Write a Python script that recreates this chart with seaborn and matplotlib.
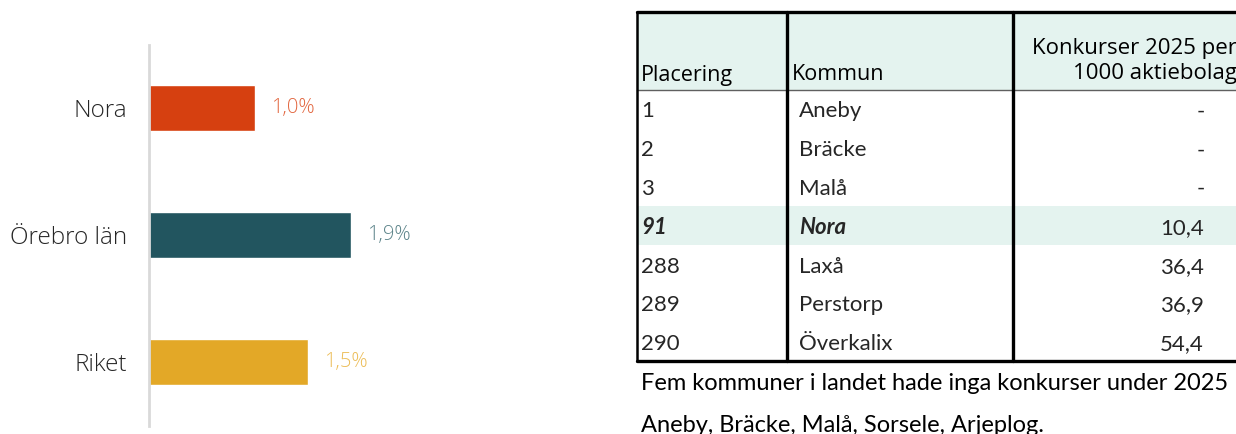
import matplotlib
matplotlib.use("Agg")
import matplotlib.pyplot as plt
import seaborn as sns
import pandas as pd

# ---- data ----
categories = ["Nora", "Örebro län", "Riket"]
values = [1.0, 1.9, 1.5]
value_labels = ["1,0%", "1,9%", "1,5%"]
bar_colors = ["#D64010", "#22555F", "#E3A827"]
label_colors = ["#E2663F", "#5B8389", "#ECBD58"]

header = ["Placering", "Kommun", "Konkurser 2025 per\n1000 aktiebolag"]
rank = ["1", "2", "3", "91", "288", "289", "290"]
kommun = ["Aneby", "Bräcke", "Malå", "Nora", "Laxå", "Perstorp", "Överkalix"]
rate = ["-", "-", "-", "10,4", "36,4", "36,9", "54,4"]
highlight_row = 3
footnote = ["Fem kommuner i landet hade inga konkurser under 2025",
            "Aneby, Bräcke, Malå, Sorsele, Arjeplog."]

W, H = 1236, 434
fig = plt.figure(figsize=(W / 100, H / 100), dpi=100)
sns.set_style("white")
plt.rcParams['font.family'] = ['Lato', 'DejaVu Sans']

# ---- bar chart ----
ax = fig.add_axes([149 / W, 8.5 / H, 420 / W, 381 / H])
df = pd.DataFrame({"cat": categories, "val": values})
sns.barplot(data=df, x="val", y="cat", hue="cat", palette=bar_colors,
            orient="h", width=0.36, legend=False, ax=ax, saturation=1)
ax.set_xlim(0, 3.95)
ax.set_ylim(2.5, -0.5)
ax.set_xlabel("")
ax.set_ylabel("")
ax.set_xticks([])
for s in ["top", "right", "bottom"]:
    ax.spines[s].set_visible(False)
ax.spines["left"].set_color("#D9D9D9")
ax.spines["left"].set_linewidth(2)
ax.tick_params(axis="y", length=0, pad=15.5, labelsize=17.5, labelcolor="#262626")
for lbl in ax.get_yticklabels():
    lbl.set_fontfamily(["Open Sans", "DejaVu Sans"])
    lbl.set_fontweight("light")
for i, (v, t, c) in enumerate(zip(values, value_labels, label_colors)):
    ax.annotate(t, xy=(v, i), xytext=(11.5, 0), textcoords="offset points",
                va="center", ha="left", fontsize=14.5, color=c,
                family=["Open Sans", "DejaVu Sans"], fontweight="light")

# ---- table ----
tx = fig.add_axes([0, 0, 1, 1])
tx.set_xlim(0, W)
tx.set_ylim(H, 0)
tx.axis("off")
mint = "#E4F3EF"
top, head_bot = 12, 89.5
row_h = 38.8
first = head_bot
bottom = first + row_h * len(rank)
xl, x1, x2, xr = 636.5, 787, 1013, 1240
tx.add_patch(plt.Rectangle((xl, top), xr - xl, head_bot - top, color=mint, lw=0))
hy = first + row_h * highlight_row
tx.add_patch(plt.Rectangle((xl, hy), xr - xl, row_h, color=mint, lw=0))
tx.plot([xl, xr], [top, top], color="black", lw=2.4)
tx.plot([xl, xr], [bottom, bottom], color="black", lw=2.4)
tx.plot([xl, xr], [head_bot, head_bot], color="#606060", lw=1)
tx.plot([xl, xl], [top, bottom], color="black", lw=1.8)
for x in (x1, x2):
    tx.plot([x, x], [top, bottom], color="black", lw=2.4)

hfont = ["Open Sans", "DejaVu Sans"]
tx.text(641, 75, header[0], ha="left", va="center", fontsize=15.5, family=hfont, color="black")
tx.text(792, 75, header[1], ha="left", va="center", fontsize=15.5, family=hfont, color="black")
tx.text(1237, 61, header[2], ha="right", va="center", fontsize=16, family=hfont,
        color="black", multialignment="right", linespacing=1.25)

for i, (r, k, v) in enumerate(zip(rank, kommun, rate)):
    yc = first + row_h * i + row_h / 2 + 2.5
    st = "italic" if i == highlight_row else "normal"
    fw = "bold" if i == highlight_row else "normal"
    tx.text(641, yc, r, ha="left", va="center", fontsize=16, style=st, weight=fw)
    tx.text(799, yc, k, ha="left", va="center", fontsize=16, style=st, weight=fw)
    if v == "-":
        tx.text(1201, yc, v, ha="center", va="center", fontsize=16)
    else:
        tx.text(1204, yc, v, ha="right", va="center", fontsize=16)

tx.text(641, 384, footnote[0], ha="left", va="center", fontsize=17, color="black")
tx.text(641, 425, footnote[1], ha="left", va="center", fontsize=17, color="black")

fig.savefig("out.png", dpi=100)
